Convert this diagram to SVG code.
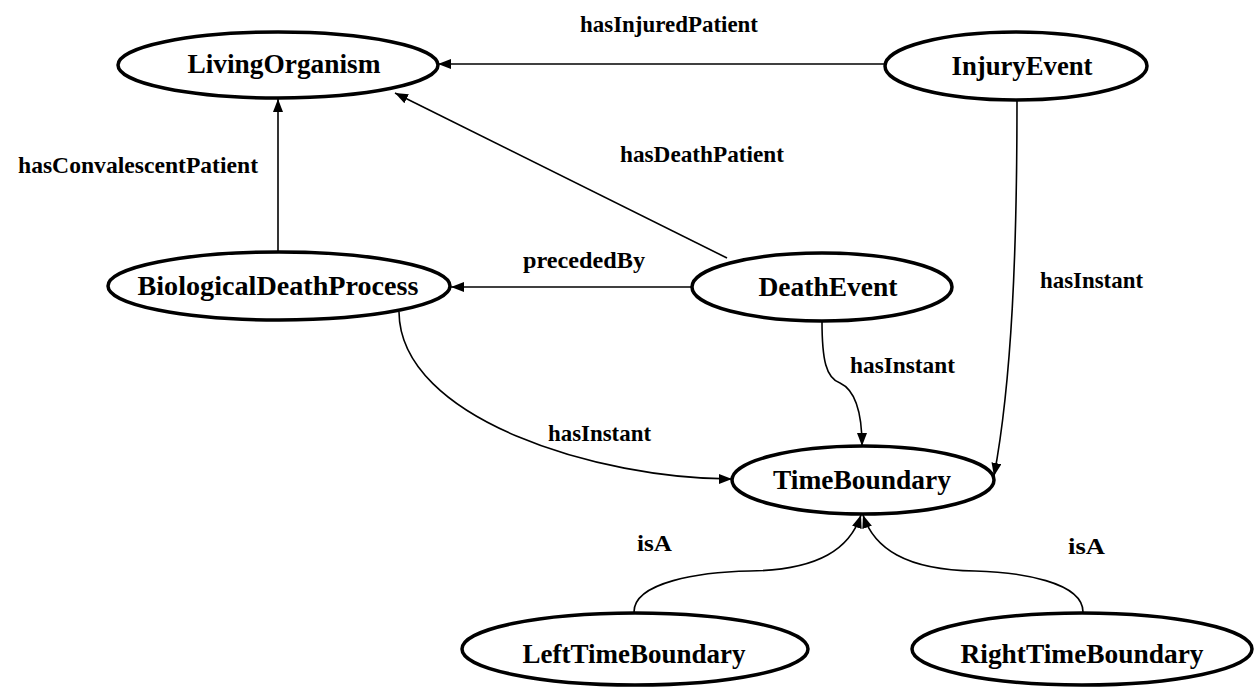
<svg xmlns="http://www.w3.org/2000/svg" width="1255" height="687" viewBox="0 0 1255 687">
<style>
.node ellipse{fill:#fff;stroke:#000;stroke-width:3.5}
.node text{font-family:"Liberation Serif","Times New Roman",serif;font-weight:bold;font-size:27px;text-anchor:middle;fill:#000}
.edge{fill:none;stroke:#000;stroke-width:1.6;marker-end:url(#arr)}
.lbl{font-family:"Liberation Serif","Times New Roman",serif;font-weight:bold;font-size:23px;fill:#000}
</style>
<defs>
<marker id="arr" markerUnits="userSpaceOnUse" markerWidth="14" markerHeight="12" refX="13" refY="5" orient="auto">
<path d="M0,0 L13,5 L0,10 z" fill="#000"/>
</marker>
</defs>
<rect width="1255" height="687" fill="#fff"/>
<g id="connectors">
<path class="edge" d="M885,64 L438,64"/>
<path class="edge" d="M727,258 L395,93"/>
<path class="edge" d="M278,252 L278,99"/>
<path class="edge" d="M692,287 L451,287"/>
<path class="edge" d="M822,321 C822,360 826,378 840,383 C855,390 862,410 862,446"/>
<path class="edge" d="M1017,100 C1017,250 1012,380 994,476"/>
<path class="edge" d="M399,312 C400,420 600,479 732,479"/>
<path class="edge" d="M634,612 C634,582 700,572 750,571 C820,570 850,548 861,515"/>
<path class="edge" d="M1083,612 C1083,582 1020,572 975,571 C905,570 874,548 863,515"/>
<text class="lbl" x="580" y="32" textLength="178" lengthAdjust="spacingAndGlyphs">hasInjuredPatient</text>
<text class="lbl" x="18" y="173" textLength="240" lengthAdjust="spacingAndGlyphs">hasConvalescentPatient</text>
<text class="lbl" x="620" y="162" textLength="164" lengthAdjust="spacingAndGlyphs">hasDeathPatient</text>
<text class="lbl" x="523" y="268" textLength="122" lengthAdjust="spacingAndGlyphs">precededBy</text>
<text class="lbl" x="1040" y="288" textLength="103" lengthAdjust="spacingAndGlyphs">hasInstant</text>
<text class="lbl" x="850" y="373" textLength="105" lengthAdjust="spacingAndGlyphs">hasInstant</text>
<text class="lbl" x="548" y="441" textLength="103" lengthAdjust="spacingAndGlyphs">hasInstant</text>
<text class="lbl" x="637" y="551" textLength="35" lengthAdjust="spacingAndGlyphs">isA</text>
<text class="lbl" x="1068" y="554" textLength="37" lengthAdjust="spacingAndGlyphs">isA</text>
</g>
<g id="LivingOrganism" class="node"><ellipse cx="278" cy="65" rx="160" ry="33"/><text x="284" y="73" textLength="193" lengthAdjust="spacingAndGlyphs">LivingOrganism</text></g>
<g id="InjuryEvent" class="node"><ellipse cx="1016" cy="66" rx="131" ry="34"/><text x="1022" y="75" textLength="141" lengthAdjust="spacingAndGlyphs">InjuryEvent</text></g>
<g id="BiologicalDeathProcess" class="node"><ellipse cx="279" cy="286" rx="171" ry="34"/><text x="278" y="295" textLength="281" lengthAdjust="spacingAndGlyphs">BiologicalDeathProcess</text></g>
<g id="DeathEvent" class="node"><ellipse cx="822" cy="287" rx="130" ry="34"/><text x="828" y="296" textLength="139" lengthAdjust="spacingAndGlyphs">DeathEvent</text></g>
<g id="TimeBoundary" class="node"><ellipse cx="863" cy="480" rx="131" ry="34"/><text x="862" y="489" textLength="178" lengthAdjust="spacingAndGlyphs">TimeBoundary</text></g>
<g id="LeftTimeBoundary" class="node"><ellipse cx="635" cy="649" rx="173" ry="36"/><text x="634" y="663" textLength="223" lengthAdjust="spacingAndGlyphs">LeftTimeBoundary</text></g>
<g id="RightTimeBoundary" class="node"><ellipse cx="1082" cy="649" rx="170" ry="36"/><text x="1082" y="663" textLength="243" lengthAdjust="spacingAndGlyphs">RightTimeBoundary</text></g>
</svg>
